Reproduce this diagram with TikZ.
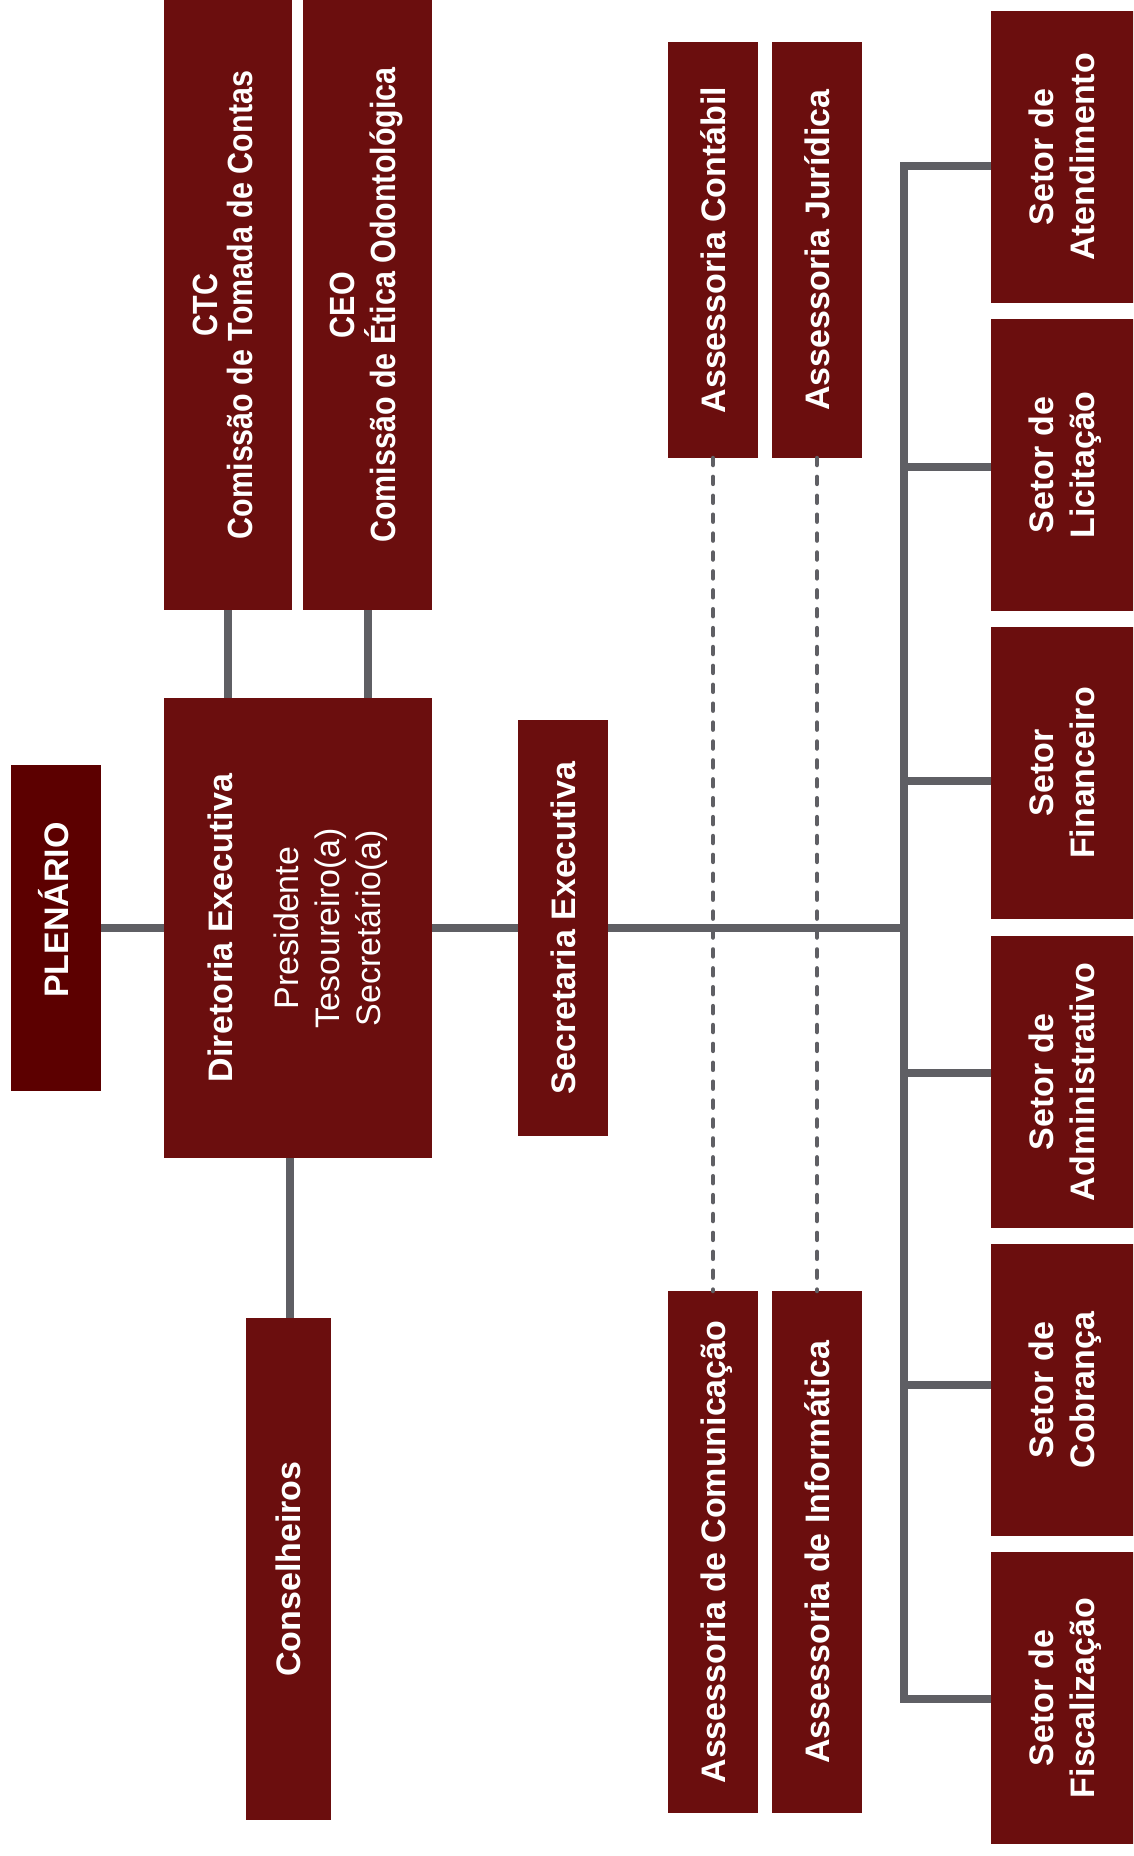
\documentclass[tikz,border=0pt]{standalone}
\usepackage{fontspec}
\setmainfont{Liberation Sans}
\usepackage{graphicx}
\definecolor{boxred}{HTML}{6B0E0E}
\definecolor{pleRed}{HTML}{5C0000}
\definecolor{linegray}{HTML}{5F5F64}
\newcommand\mycap[1]{\raisebox{0pt}[24.3pt][0pt]{#1}}
\newcommand\vt[1]{\rotatebox{90}{#1}}
\tikzset{
  box/.style={fill=boxred, inner sep=0pt, outer sep=0pt, text=white,
    font=\bfseries\fontsize{34}{41}\selectfont, anchor=center},
  conn/.style={draw=linegray, line width=8pt, line join=miter},
  dashconn/.style={draw=linegray, line width=4.5pt, dash pattern=on 7pt off 11.9pt, line cap=round}
}
\begin{document}
\begin{tikzpicture}[x=1pt,y=-1pt]
\useasboundingbox (0,0) rectangle (1133,1856);
\clip (0,0) rectangle (1133,1856);
% boxes
\node[box, fill=pleRed, minimum width=90pt, minimum height=326pt] (ple) at (56,928) {\vt{\mycap{\hspace*{36pt}PLENÁRIO}}};
\node[box, minimum width=128pt, minimum height=610pt] (ctc) at (228,305)
  {\vt{\scalebox{0.87}[1]{\fontsize{35}{34}\selectfont\begin{tabular}{@{}c@{}}CTC\\Comissão de Tomada de Contas\end{tabular}}}};
\node[box, minimum width=129pt, minimum height=610pt] (ceo) at (367.5,305)
  {\vt{\scalebox{0.87}[1]{\fontsize{35}{34}\selectfont\begin{tabular}{@{}c@{}}CEO\\Comissão de Ética Odontológica\end{tabular}}}};
\node[box, minimum width=268pt, minimum height=460pt] (dir) at (298,928)
  {\vt{\begin{tabular}{@{}c@{}}Diretoria Executiva\\[25pt]\mdseries Presidente\\\mdseries Tesoureiro(a)\\\mdseries Secretário(a)\end{tabular}}};
\node[box, minimum width=85pt, minimum height=502pt] (cons) at (288.5,1569) {\vt{\mycap{Conselheiros}}};
\node[box, minimum width=90pt, minimum height=416pt] (sec) at (563,928) {\vt{\mycap{Secretaria Executiva}}};
\node[box, minimum width=90pt, minimum height=416pt] (acont) at (713,250) {\vt{\mycap{Assessoria Contábil}}};
\node[box, minimum width=90pt, minimum height=416pt] (ajur) at (817,250) {\vt{\mycap{Assessoria Jurídica}}};
\node[box, minimum width=90pt, minimum height=522pt] (acom) at (713,1552) {\vt{\mycap{Assessoria de Comunicação}}};
\node[box, minimum width=90pt, minimum height=522pt] (ainf) at (817,1552) {\vt{\mycap{Assessoria de Informática}}};
\node[box, minimum width=149pt, minimum height=292pt] (s1) at (1065.5,157)
  {\vt{\begin{tabular}{@{}c@{}}Setor de\\Atendimento\end{tabular}}};
\node[box, minimum width=149pt, minimum height=292pt] (s2) at (1065.5,465)
  {\vt{\begin{tabular}{@{}c@{}}Setor de\\Licitação\end{tabular}}};
\node[box, minimum width=149pt, minimum height=292pt] (s3) at (1065.5,773)
  {\vt{\begin{tabular}{@{}c@{}}Setor\\Financeiro\end{tabular}}};
\node[box, minimum width=149pt, minimum height=292pt] (s4) at (1065.5,1082)
  {\vt{\begin{tabular}{@{}c@{}}Setor de\\Administrativo\end{tabular}}};
\node[box, minimum width=149pt, minimum height=292pt] (s5) at (1065.5,1390)
  {\vt{\begin{tabular}{@{}c@{}}Setor de\\Cobrança\end{tabular}}};
\node[box, minimum width=149pt, minimum height=292pt] (s6) at (1065.5,1698)
  {\vt{\begin{tabular}{@{}c@{}}Setor de\\Fiscalização\end{tabular}}};
% bus coordinates
\coordinate (bt) at (904,166);
\coordinate (b2) at (904,467);
\coordinate (b3) at (904,781);
\coordinate (bm) at (904,928);
\coordinate (b4) at (904,1073);
\coordinate (b5) at (904,1385);
\coordinate (bb) at (904,1699);
% connectors
\draw[conn] (ple.east) -- (dir.west);
\draw[conn] (dir.east) -- (sec.west);
\draw[conn] (sec.east) -- (bm);
\draw[conn] (ctc.south) -- (ctc.south |- dir.north);
\draw[conn] (ceo.south) -- (ceo.south |- dir.north);
\draw[conn] (cons.north -| 290,0) -- (dir.south -| 290,0);
\draw[conn] (s1.west |- bt) -- (bt) -- (bb) -- (s6.west |- bb);
\draw[conn] (b2) -- (s2.west |- b2);
\draw[conn] (b3) -- (s3.west |- b3);
\draw[conn] (b4) -- (s4.west |- b4);
\draw[conn] (b5) -- (s5.west |- b5);
\draw[dashconn] (acont.south) -- (acom.north);
\draw[dashconn] (ajur.south) -- (ainf.north);
\end{tikzpicture}
\end{document}
